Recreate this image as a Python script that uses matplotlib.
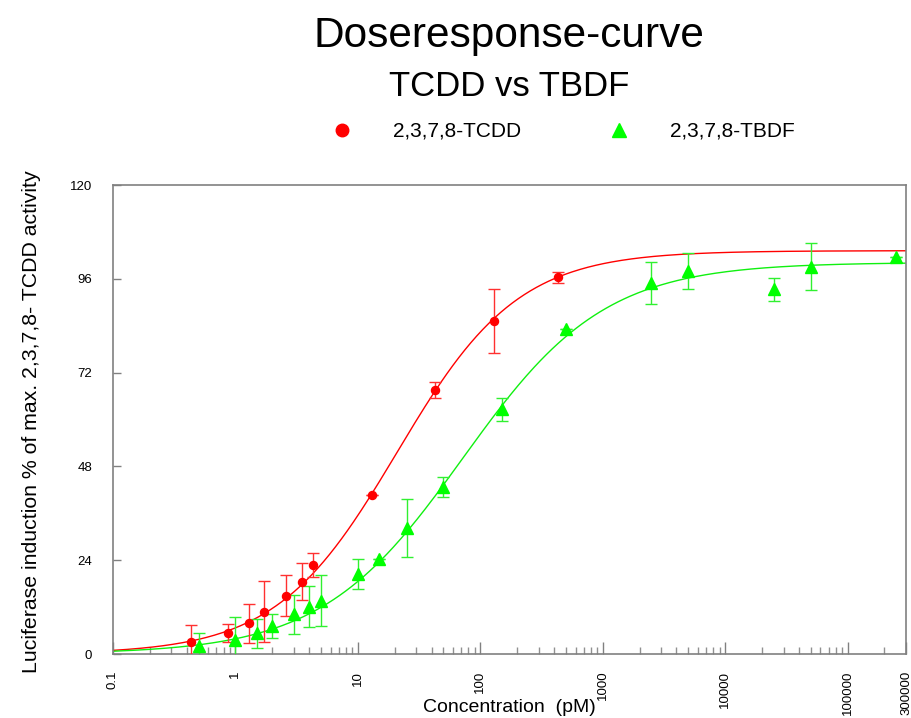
import numpy as np
import matplotlib
matplotlib.use("Agg")
import matplotlib.pyplot as plt
from matplotlib.lines import Line2D
from matplotlib.ticker import FixedLocator, NullFormatter

plt.rcParams['font.family'] = ['Liberation Sans', 'DejaVu Sans']

# ---- data ----
tcdd_conc = [0.43, 0.87, 1.3, 1.7, 2.6, 3.5, 4.3, 13, 43, 130, 430]
tcdd_resp = [3.2, 5.4, 7.9, 10.8, 14.9, 18.5, 22.8, 40.7, 67.6, 85.1, 96.4]
tcdd_err = [4.2, 2.3, 5.0, 7.8, 5.2, 4.7, 3.0, 0.0, 2.0, 8.2, 1.4]

tbdf_conc = [0.5, 1, 1.5, 2, 3, 4, 5, 10, 15, 25, 50, 150, 500, 2500, 5000, 25000, 50000, 250000]
tbdf_resp = [2.0, 3.6, 5.3, 7.2, 10.2, 12.1, 13.6, 20.4, 24.2, 32.2, 42.7, 62.6, 83.1, 95.0, 98.0, 93.3, 99.1, 101.5]
tbdf_err = [3.5, 6.0, 3.7, 3.0, 5.0, 5.2, 6.5, 3.8, 0.0, 7.4, 2.5, 2.9, 0.0, 5.4, 4.5, 2.9, 6.0, 0.0]

# fitted 4-parameter logistic curves (bottom, top, EC50, hill)
tcdd_fit = (0.0, 103.2, 20.9, 0.878)
tbdf_fit = (0.0, 100.2, 72.0, 0.75)

x_ticks = [0.1, 1, 10, 100, 1000, 10000, 100000, 300000]
x_tick_labels = ["0.1", "1", "10", "100", "1000", "10000", "100000", "300000"]
y_ticks = [0, 24, 48, 72, 96, 120]

def logistic(x, p):
    b, t, ec, h = p
    return b + (t - b) / (1 + (ec / x) ** h)

fig = plt.figure(figsize=(9.11, 7.18), dpi=100)
ax = fig.add_axes([0.124, 0.0891, 0.8705, 0.6532])

RED = '#ff0000'
GREEN = '#00ff00'

xs = np.logspace(-1, np.log10(300000), 400)
ax.plot(xs, logistic(xs, tcdd_fit), color=RED, lw=1.0, zorder=2)
ax.plot(xs, logistic(xs, tbdf_fit), color='#10f010', lw=1.0, zorder=2)

ax.errorbar(tcdd_conc, tcdd_resp, yerr=tcdd_err, fmt='none', ecolor='#ff3030',
            elinewidth=1.0, capsize=4.5, capthick=1.0, zorder=3)
ax.errorbar(tbdf_conc, tbdf_resp, yerr=tbdf_err, fmt='none', ecolor='#30f030',
            elinewidth=1.0, capsize=4.5, capthick=1.0, zorder=3)

ax.plot(tcdd_conc, tcdd_resp, 'o', color=RED, ms=5.8, mec=RED, zorder=4)
ax.plot(tbdf_conc, tbdf_resp, '^', color=GREEN, ms=8.5, mec=GREEN, zorder=4)

ax.set_xscale('log')
ax.set_xlim(0.1, 300000)
ax.set_ylim(0, 120)

ax.xaxis.set_major_locator(FixedLocator(x_ticks))
ax.set_xticklabels(x_tick_labels, rotation=90, fontsize=9.5)
minor = []
for d in range(-1, 6):
    for m in range(2, 10):
        v = m * 10.0 ** d
        if v < 300000:
            minor.append(v)
ax.xaxis.set_minor_locator(FixedLocator(minor))
ax.xaxis.set_minor_formatter(NullFormatter())
ax.set_yticks(y_ticks)
ax.set_yticklabels([str(v) for v in y_ticks], fontsize=9.5)

ax.tick_params(axis='x', which='major', direction='in', length=9, width=1.0,
               color='#808080', pad=12)
ax.tick_params(axis='x', which='minor', direction='in', length=5, width=1.0,
               color='#909090')
ax.tick_params(axis='y', which='major', direction='in', length=6, width=1.0,
               color='#808080', pad=15)
for s in ax.spines.values():
    s.set_color('#808080')
    s.set_linewidth(1.2)

ax.set_xlabel('Concentration  (pM)', fontsize=14, va='center')
ax.xaxis.set_label_coords(0.5, -0.115)
ax.set_ylabel('Luciferase induction % of max. 2,3,7,8- TCDD activity', fontsize=15.3,
              va='center')
ax.yaxis.set_label_coords(-0.103, 0.495)

fig.text(0.559, 0.935, 'Doseresponse-curve', ha='center', va='baseline', fontsize=30.5)
fig.text(0.559, 0.866, 'TCDD vs TBDF', ha='center', va='baseline', fontsize=25)

leg_handles = [
    Line2D([], [], ls='none', marker='o', color=RED, ms=9, label='2,3,7,8-TCDD'),
    Line2D([], [], ls='none', marker='^', color=GREEN, ms=10, label='2,3,7,8-TBDF'),
]
fig.legend(handles=leg_handles, loc='center', bbox_to_anchor=(0.6125, 0.817), ncol=2,
           frameon=False, fontsize=15, handlelength=2.0, handletextpad=1.45,
           columnspacing=3.7)

fig.savefig('out.png', dpi=100)
